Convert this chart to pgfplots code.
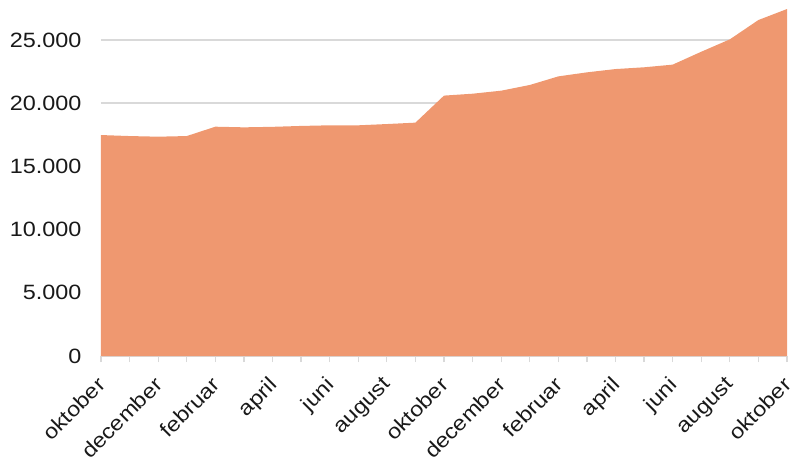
\documentclass[border=0pt]{standalone}
\usepackage{pgfplots}
\pgfplotsset{compat=1.18}
\usepackage{fontspec}
\setmainfont[FakeStretch=1.13]{Liberation Sans}
\definecolor{areaC}{RGB}{239,152,112}
\definecolor{gridC}{RGB}{217,217,217}
\begin{document}
\begin{tikzpicture}[x=1pt,y=1pt]
\path[use as bounding box] (-101,-104) rectangle (689,356);
\begin{axis}[at={(0,0)}, anchor=south west, scale only axis,
  width=686pt, height=349pt,
  xmin=0, xmax=24, ymin=0, ymax=27610,
  axis x line*=bottom, axis y line*=left,
  y axis line style={draw=none},
  x axis line style={draw=gridC, line width=1.5pt},
  ytick={0,5000,...,25000},
  scaled y ticks=false,
  ymajorgrids, grid style={draw=gridC, line width=1.5pt},
  ytick style={draw=none},
  xtick={0,2,...,24},
  minor xtick={1,3,...,23},
  xticklabels={oktober,december,februar,april,juni,august,oktober,december,februar,april,juni,august,oktober},
  tick align=outside,
  major tick length=6pt, minor tick length=6pt,
  xtick style={draw=gridC, line width=1.2pt},
  minor tick style={draw=gridC, line width=1.2pt},
  /pgf/number format/.cd, 1000 sep={.}, assume math mode=true,
  /pgfplots/.cd,
  ticklabel style={font=\fontsize{20.7}{24}\selectfont, text=black!90},
  xticklabel style={xshift=-5pt, yshift=-12pt, rotate=45, anchor=north east, inner sep=1pt},
  yticklabel style={xshift=-10pt},
]
\addplot[fill=areaC, draw=none] coordinates {
(0,17480) (1,17400) (2,17350) (3,17400) (4,18140) (5,18090) (6,18130)
(7,18200) (8,18250) (9,18250) (10,18350) (11,18460) (12,20600) (13,20750)
(14,20990) (15,21440) (16,22120) (17,22440) (18,22700) (19,22840) (20,23050)
(21,24070) (22,25050) (23,26580) (24,27450)
} \closedcycle;
\end{axis}
\end{tikzpicture}
\end{document}
